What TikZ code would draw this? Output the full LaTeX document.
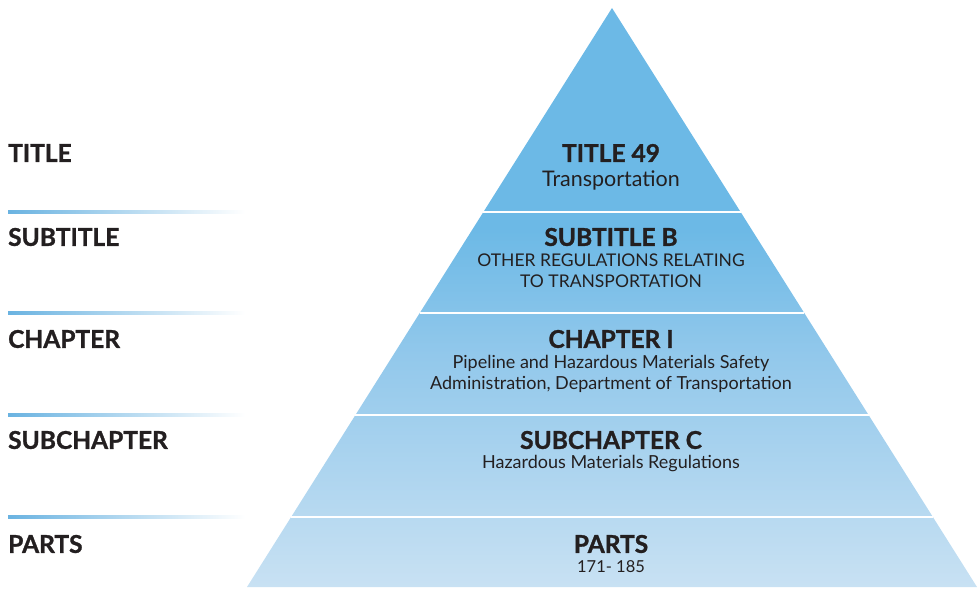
\documentclass[tikz,border=0pt]{standalone}
\usepackage{fontspec}
\setmainfont{Lato}
\newfontfamily\heavyfont[FakeBold=1.2]{Lato}
\usetikzlibrary{calc}
\definecolor{pyrtop}{HTML}{6CB9E6}
\definecolor{pyrmid}{HTML}{92C8EB}
\definecolor{pyrbot}{HTML}{C8E1F3}
\definecolor{textdark}{HTML}{231F20}
\definecolor{linefrom}{HTML}{6AB3E1}
\pgfdeclareverticalshading{pyrshade}{100bp}{color(0bp)=(pyrbot); color(25bp)=(pyrbot); color(45bp)=(pyrmid); color(56bp)=(pyrtop); color(100bp)=(pyrtop)}
\tikzset{
  lefthead/.style={anchor=west, font=\fontsize{24.5}{27}\heavyfont\bfseries, text=textdark, inner sep=0pt},
  pyrhead/.style={font=\fontsize{24.5}{27}\heavyfont\bfseries, text=textdark, inner sep=0pt},
  pyrsub/.style={font=\fontsize{18}{21}\selectfont, text=textdark, inner sep=0pt, align=center},
  sepline/.style={draw=white, line width=2.2pt},
  fadeline/.style={left color=linefrom, right color=white, draw=none},
}
\begin{document}
\begin{tikzpicture}[x=1pt,y=-1pt]
\useasboundingbox (0,0) rectangle (979,591);
\coordinate (apex) at (612,8);
\coordinate (bl) at (247,587);
\coordinate (br) at (977,587);
\shade[shading=pyrshade] (apex) -- (br) -- (bl) -- cycle;
% separators
\foreach \yy/\nm in {212/a,313/b,415/c,517/d}{
  \coordinate (L\nm) at ($(apex)!{(\yy-8)/579}!(bl)$);
  \coordinate (R\nm) at ($(apex)!{(\yy-8)/579}!(br)$);
  \draw[sepline] (L\nm) -- (R\nm);
  \fill[fadeline] (8,\yy-1.5) rectangle (245,\yy+1.5);
}
% left labels
\node[lefthead] (lt) at (8,153) {TITLE};
\node[lefthead] (ls) at (8,237) {SUBTITLE};
\node[lefthead] (lc) at (8,339) {CHAPTER};
\node[lefthead] (lsc) at (8,440) {SUBCHAPTER};
\node[lefthead] (lp) at (8,544) {PARTS};
% pyramid texts
\node[pyrhead] (t1) at (611,153) {TITLE 49};
\node[pyrsub, font=\fontsize{21.5}{24}\selectfont] (t2) at (611,180) {Transportation};
\node[pyrhead] (s1) at (611,237) {SUBTITLE B};
\node[pyrsub, font=\fontsize{17.5}{21}\selectfont] (s2) at (611,271) {OTHER REGULATIONS RELATING\\TO TRANSPORTATION};
\node[pyrhead] (c1) at (611,339) {CHAPTER I};
\node[pyrsub] (c2) at (611,373.5) {Pipeline and Hazardous Materials Safety\\Administration, Department of Transportation};
\node[pyrhead] (sc1) at (611,440) {SUBCHAPTER C};
\node[pyrsub] (sc2) at (611,464) {Hazardous Materials Regulations};
\node[pyrhead] (p1) at (611,544) {PARTS};
\node[pyrsub, font=\fontsize{16.5}{20}\selectfont] (p2) at (611,567) {171- 185};
\end{tikzpicture}
\end{document}
